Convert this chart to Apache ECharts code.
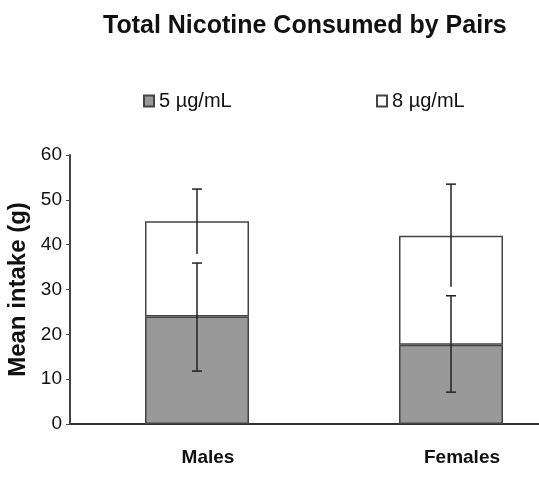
<!DOCTYPE html>
<html>
<head>
<meta charset="utf-8">
<script src="https://cdn.jsdelivr.net/npm/echarts@6/dist/echarts.min.js"></script>
<style>
  html, body { margin: 0; padding: 0; background: #fff; }
  #chart { width: 539px; height: 477px; }
</style>
</head>
<body>
<div id="chart"></div>
<script>
const categories = ['Males', 'Females'];
// 5 µg/mL bar (bottom) and the 8 µg/mL part stacked on top
const low5 = [24, 17.7];
const add8 = [21.2, 24.3];
// error bar ranges [low, high]
const err5 = [[11.8, 35.9], [7.1, 28.6]];
const err8 = [[37.9, 52.4], [30.6, 53.5]];
const yTicks = [0, 10, 20, 30, 40, 50, 60];

const font = '"Liberation Sans", Arial, sans-serif';

// error bar drawn on the category axis, bottom cap optional
function errorBar(withBottomCap) {
  return function (params, api) {
    const x = api.coord([api.value(0), 0])[0];
    const lo = api.coord([api.value(0), api.value(1)])[1];
    const hi = api.coord([api.value(0), api.value(2)])[1];
    const style = { stroke: '#222', lineWidth: 1.5 };
    const kids = [
      { type: 'line', shape: { x1: x, y1: lo, x2: x, y2: hi }, style },
      { type: 'line', shape: { x1: x - 5, y1: hi, x2: x + 5, y2: hi }, style }
    ];
    if (withBottomCap) {
      kids.push({ type: 'line', shape: { x1: x - 5, y1: lo, x2: x + 5, y2: lo }, style });
    }
    return { type: 'group', children: kids };
  };
}

const chart = echarts.init(document.getElementById('chart'));
chart.setOption({
  animation: false,
  textStyle: { fontFamily: font },
  title: {
    text: 'Total Nicotine Consumed by Pairs',
    left: 98,
    top: 9,
    textStyle: { fontSize: 25, fontWeight: 'bold', color: '#111', fontFamily: font }
  },
  legend: [
    {
      data: ['5 µg/mL'], left: 138, top: 86, icon: 'rect',
      itemWidth: 10, itemHeight: 11,
      textStyle: { fontSize: 20, color: '#111', fontFamily: font }
    },
    {
      data: ['8 µg/mL'], left: 371, top: 86, icon: 'rect',
      itemWidth: 10, itemHeight: 11,
      textStyle: { fontSize: 20, color: '#111', fontFamily: font }
    }
  ],
  grid: { left: 70, top: 155, bottom: 53, right: -39, outerBoundsMode: 'none' },
  xAxis: {
    type: 'category',
    data: categories,
    axisLine: { lineStyle: { color: '#333', width: 2 } },
    axisTick: { show: false },
    axisLabel: {
      fontSize: 19, fontWeight: 'bold', color: '#111', margin: 24,
      padding: [0, 0, 0, 22], fontFamily: font
    }
  },
  yAxis: {
    type: 'value',
    min: yTicks[0],
    max: yTicks[yTicks.length - 1],
    interval: 10,
    name: 'Mean intake (g)',
    nameLocation: 'middle',
    nameGap: 35,
    nameTextStyle: { fontSize: 24, fontWeight: 'bold', color: '#111', fontFamily: font },
    axisLine: { show: true, lineStyle: { color: '#444', width: 2 } },
    axisTick: { show: true, length: 4, lineStyle: { color: '#444' } },
    axisLabel: { fontSize: 19, color: '#111', margin: 8, fontFamily: font },
    splitLine: { show: false }
  },
  series: [
    {
      name: '5 µg/mL',
      type: 'bar',
      stack: 'total',
      barWidth: 104,
      data: low5,
      itemStyle: { color: '#999999', borderColor: '#444', borderWidth: 1.5 }
    },
    {
      name: '8 µg/mL',
      type: 'bar',
      stack: 'total',
      barWidth: 104,
      data: add8,
      itemStyle: { color: '#ffffff', borderColor: '#444', borderWidth: 1.5 }
    },
    {
      type: 'custom',
      z: 10,
      renderItem: errorBar(true),
      encode: { x: 0, y: [1, 2] },
      data: err5.map((e, i) => [i, e[0], e[1]])
    },
    {
      type: 'custom',
      z: 10,
      renderItem: errorBar(false),
      encode: { x: 0, y: [1, 2] },
      data: err8.map((e, i) => [i, e[0], e[1]])
    }
  ]
});
</script>
</body>
</html>
